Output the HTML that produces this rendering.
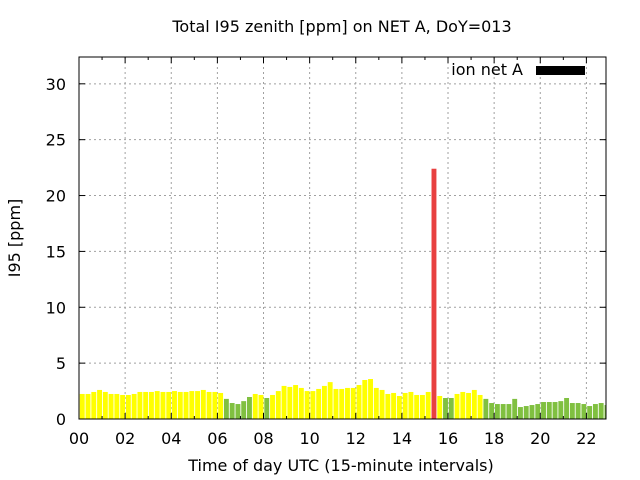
<!DOCTYPE html>
<html><head><meta charset="utf-8"><style>
body{margin:0;background:#fff;}
svg{display:block;font-family:"DejaVu Sans","Liberation Sans",sans-serif;}
</style></head><body>
<svg id="chart" width="640" height="480">
<defs><clipPath id="pc"><rect x="79" y="57" width="527" height="362"></rect></clipPath></defs>
<text x="342" y="32" font-size="16" text-anchor="middle">Total I95 zenith [ppm] on NET A, DoY=013</text>
<g id="grid"></g>
<g id="bars" clip-path="url(#pc)"></g>
<g id="axes"></g>
<text x="341" y="471" font-size="16" text-anchor="middle">Time of day UTC (15-minute intervals)</text>
<text transform="translate(20,238) rotate(-90)" font-size="16" text-anchor="middle">I95 [ppm]</text>
<g>
<text x="523" y="75" font-size="16" text-anchor="end">ion net A</text>
<rect x="536" y="66" width="49" height="9" fill="#000"></rect>
</g>
</svg>
<script>
const values = [2.24,2.24,2.42,2.6,2.42,2.24,2.24,2.15,2.15,2.24,2.42,2.42,2.42,2.5,2.42,2.42,2.5,2.42,2.42,2.5,2.5,2.6,2.42,2.42,2.33,1.8,1.43,1.34,1.6,1.97,2.24,2.15,1.88,2.15,2.5,2.96,2.87,3.04,2.78,2.5,2.5,2.69,2.96,3.3,2.69,2.69,2.78,2.78,3.04,3.49,3.58,2.78,2.6,2.24,2.33,2.06,2.33,2.42,2.15,2.15,2.42,22.4,2.06,1.88,1.88,2.24,2.42,2.33,2.6,2.15,1.8,1.43,1.34,1.34,1.34,1.8,1.07,1.16,1.25,1.34,1.52,1.52,1.52,1.6,1.88,1.43,1.43,1.34,1.16,1.34,1.43,1.25];
const yTicks = [0,5,10,15,20,25,30];
const xTicks = ["00","02","04","06","08","10","12","14","16","18","20","22"];
const X0=79,X1=606,Y0=419,Y1=57,XMAX=22.85,YMAX=32.4;
const sx=h=>X0+(X1-X0)*h/XMAX;
const sy=v=>Y0-(Y0-Y1)*v/YMAX;
const NS="http://www.w3.org/2000/svg";
function mk(tag,attrs,parent){const e=document.createElementNS(NS,tag);for(const k in attrs)e.setAttribute(k,attrs[k]);document.getElementById(parent).appendChild(e);return e;}
yTicks.forEach(t=>{
 const y=sy(t);
 if(t>0){const g=mk('line',{x1:X0,x2:X1,y1:y,y2:y,stroke:'#a0a0a0','stroke-dasharray':'2,3'},'grid');
 
 }
 mk('line',{x1:X0,x2:X0+6,y1:y,y2:y,stroke:'#000'},'axes');
 mk('line',{x1:X1,x2:X1-6,y1:y,y2:y,stroke:'#000'},'axes');
 const tx=mk('text',{x:X0-13,y:y+6,'font-size':16,'text-anchor':'end'},'axes');
 tx.textContent=t;
 
 
});
xTicks.forEach((lab,i)=>{
 const h=i*2,x=sx(h);
 if(h>0){const g=mk('line',{x1:x,x2:x,y1:Y0,y2:Y1,stroke:'#a0a0a0','stroke-dasharray':'2,3'},'grid');
 
 }
 mk('line',{x1:x,x2:x,y1:Y0,y2:Y0-6,stroke:'#000'},'axes');
 mk('line',{x1:x,x2:x,y1:Y1,y2:Y1+6,stroke:'#000'},'axes');
 const xm=sx(h+1);
 if(xm<X1){
 mk('line',{x1:xm,x2:xm,y1:Y0,y2:Y0-3,stroke:'#000'},'axes');
 mk('line',{x1:xm,x2:xm,y1:Y1,y2:Y1+3,stroke:'#000'},'axes');}
 const tx=mk('text',{x:x,y:Y0+25,'font-size':16,'text-anchor':'middle'},'axes');
 tx.textContent=lab;
 
 
});
mk('rect',{x:X0,y:Y1,width:X1-X0,height:Y0-Y1,fill:'none',stroke:'#000'},'axes');
const slot=sx(0.25)-sx(0);
values.forEach((v,i)=>{
 const x=sx(i/4);
 const col=v>20?'#e84040':(v<2?'#80c040':'#ffff00');
 const r=mk('rect',{x:x+0.8,y:sy(v),width:slot*0.85,height:Y0-sy(v),fill:col},'bars');
 
 
});
</script>
</body></html>
